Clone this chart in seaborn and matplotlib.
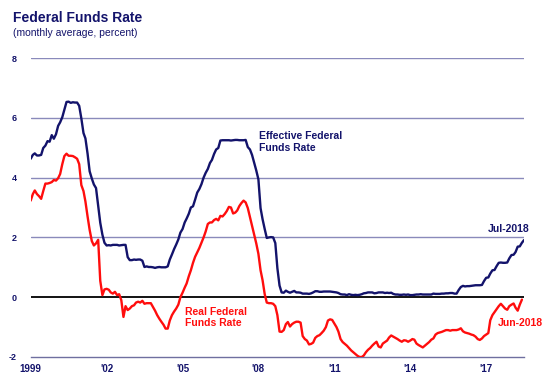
import numpy as np
import pandas as pd
import seaborn as sns
import matplotlib.pyplot as plt

# Effective Federal Funds Rate, monthly average, Jan-1999 .. Jul-2018
effective = [
    4.63, 4.76, 4.81, 4.74, 4.74, 4.76, 4.99, 5.07, 5.22, 5.20, 5.42, 5.30,  # 1999
    5.45, 5.73, 5.85, 6.02, 6.27, 6.53, 6.54, 6.50, 6.52, 6.51, 6.51, 6.40,  # 2000
    5.98, 5.49, 5.31, 4.80, 4.21, 3.97, 3.77, 3.65, 3.07, 2.49, 2.09, 1.82,  # 2001
    1.73, 1.74, 1.73, 1.75, 1.75, 1.75, 1.73, 1.74, 1.75, 1.75, 1.34, 1.24,  # 2002
    1.24, 1.26, 1.25, 1.26, 1.26, 1.22, 1.01, 1.03, 1.01, 1.01, 1.00, 0.98,  # 2003
    1.00, 1.01, 1.00, 1.00, 1.00, 1.03, 1.26, 1.43, 1.61, 1.76, 1.93, 2.16,  # 2004
    2.28, 2.50, 2.63, 2.79, 3.00, 3.04, 3.26, 3.50, 3.62, 3.78, 4.00, 4.16,  # 2005
    4.29, 4.49, 4.59, 4.79, 4.94, 4.99, 5.24, 5.25, 5.25, 5.25, 5.25, 5.24,  # 2006
    5.25, 5.26, 5.26, 5.25, 5.25, 5.25, 5.26, 5.02, 4.94, 4.76, 4.49, 4.24,  # 2007
    3.94, 2.98, 2.61, 2.28, 1.98, 2.00, 2.01, 2.00, 1.81, 0.97, 0.39, 0.16,  # 2008
    0.15, 0.22, 0.18, 0.15, 0.18, 0.21, 0.16, 0.16, 0.15, 0.12, 0.12, 0.12,  # 2009
    0.11, 0.13, 0.16, 0.20, 0.20, 0.18, 0.18, 0.19, 0.19, 0.19, 0.19, 0.18,  # 2010
    0.17, 0.16, 0.14, 0.10, 0.09, 0.09, 0.07, 0.10, 0.08, 0.07, 0.08, 0.07,  # 2011
    0.08, 0.10, 0.13, 0.14, 0.16, 0.16, 0.16, 0.13, 0.14, 0.16, 0.16, 0.16,  # 2012
    0.14, 0.15, 0.14, 0.15, 0.11, 0.09, 0.09, 0.08, 0.08, 0.09, 0.08, 0.09,  # 2013
    0.07, 0.07, 0.08, 0.09, 0.09, 0.10, 0.09, 0.09, 0.09, 0.09, 0.09, 0.12,  # 2014
    0.11, 0.11, 0.11, 0.12, 0.12, 0.13, 0.13, 0.14, 0.14, 0.12, 0.12, 0.24,  # 2015
    0.34, 0.38, 0.36, 0.37, 0.37, 0.38, 0.39, 0.40, 0.40, 0.40, 0.41, 0.54,  # 2016
    0.65, 0.66, 0.79, 0.90, 0.91, 1.04, 1.15, 1.16, 1.15, 1.15, 1.16, 1.30,  # 2017
    1.41, 1.42, 1.51, 1.69, 1.70, 1.82, 1.91,                                # 2018
]

# Real Federal Funds Rate, Jan-1999 .. Jun-2018
real = [
    3.23, 3.45, 3.57, 3.45, 3.38, 3.29, 3.55, 3.80, 3.80, 3.82, 3.85, 3.92,  # 1999
    3.90, 3.98, 4.12, 4.45, 4.72, 4.80, 4.73, 4.73, 4.72, 4.68, 4.63, 4.45,  # 2000
    3.75, 3.55, 3.20, 2.70, 2.25, 1.88, 1.73, 1.80, 1.92, 0.55, 0.07, 0.26,  # 2001
    0.28, 0.25, 0.16, 0.12, 0.18, 0.07, 0.10, -0.10, -0.66, -0.30, -0.43, -0.38,  # 2002
    -0.30, -0.27, -0.18, -0.15, -0.18, -0.12, -0.22, -0.20, -0.20, -0.20, -0.33, -0.45,  # 2003
    -0.60, -0.72, -0.82, -0.92, -1.05, -1.05, -0.78, -0.60, -0.48, -0.38, -0.25, 0.00,  # 2004
    0.15, 0.32, 0.46, 0.70, 0.90, 1.15, 1.35, 1.50, 1.65, 1.82, 2.00, 2.20,  # 2005
    2.45, 2.50, 2.50, 2.58, 2.62, 2.57, 2.72, 2.70, 2.78, 2.88, 3.02, 3.00,  # 2006
    2.80, 2.83, 2.90, 3.05, 3.15, 3.23, 3.17, 2.98, 2.68, 2.38, 2.10, 1.80,  # 2007
    1.45, 0.90, 0.57, 0.10, -0.18, -0.20, -0.20, -0.22, -0.30, -0.60, -1.15, -1.16,  # 2008
    -1.10, -0.90, -0.83, -0.98, -0.90, -0.85, -0.82, -0.82, -0.85, -1.30, -1.40, -1.45,  # 2009
    -1.58, -1.56, -1.52, -1.36, -1.30, -1.27, -1.20, -1.12, -1.00, -0.78, -0.74, -0.76,  # 2010
    -0.88, -1.00, -1.15, -1.40, -1.50, -1.56, -1.62, -1.70, -1.78, -1.84, -1.90, -1.96,  # 2011
    -2.00, -2.00, -1.95, -1.84, -1.76, -1.70, -1.62, -1.55, -1.49, -1.65, -1.68, -1.55,  # 2012
    -1.50, -1.45, -1.35, -1.28, -1.32, -1.36, -1.40, -1.45, -1.49, -1.44, -1.45, -1.49,  # 2013
    -1.45, -1.40, -1.42, -1.55, -1.60, -1.64, -1.68, -1.62, -1.56, -1.50, -1.42, -1.38,  # 2014
    -1.25, -1.20, -1.18, -1.16, -1.13, -1.10, -1.10, -1.12, -1.10, -1.10, -1.10, -1.08,  # 2015
    -1.04, -1.14, -1.18, -1.20, -1.22, -1.25, -1.27, -1.32, -1.40, -1.43, -1.38, -1.30,  # 2016
    -1.25, -1.20, -0.77, -0.60, -0.50, -0.40, -0.30, -0.22, -0.30, -0.38, -0.42, -0.30,  # 2017
    -0.25, -0.21, -0.35, -0.45, -0.25, -0.08,                                  # 2018
]

tick_years = [1999, 2002, 2005, 2008, 2011, 2014, 2017]
tick_labels = ["1999", "'02", "'05", "'08", "'11", "'14", "'17"]
y_ticks = [-2, 0, 2, 4, 6, 8]

NAVY = '#13136b'
RED = '#ff0d0d'
GRID = '#8a8abb'

dates_eff = pd.date_range('1999-01-01', periods=len(effective), freq='MS')
dates_real = pd.date_range('1999-01-01', periods=len(real), freq='MS')
df_eff = pd.DataFrame({'date': dates_eff, 'rate': effective})
df_real = pd.DataFrame({'date': dates_real, 'rate': real})

sns.set_theme(style='white')
plt.rcParams['font.family'] = ['Liberation Sans', 'DejaVu Sans']

fig = plt.figure(figsize=(5.51, 3.87), dpi=100)
ax = fig.add_axes([30.7 / 551, 30 / 387, (524 - 30.7) / 551, 299 / 387])

for v in [2, 4, 6, 8]:
    ax.axhline(v, color=GRID, lw=1.0, zorder=0)
ax.axhline(0, color='black', lw=1.3, zorder=1)

sns.lineplot(data=df_real, x='date', y='rate', color=RED, lw=1.7, ax=ax, zorder=3)
sns.lineplot(data=df_eff, x='date', y='rate', color=NAVY, lw=1.7, ax=ax, zorder=4)

ax.set_ylim(-2, 8)
ax.set_xlim(dates_eff[0], dates_eff[-1])
ax.set_xlabel('')
ax.set_ylabel('')

for s in ['top', 'right', 'left']:
    ax.spines[s].set_visible(False)
ax.spines['bottom'].set_color('#6f6f9f')
ax.spines['bottom'].set_linewidth(1.0)

ax.set_yticks(y_ticks)
ax.set_yticklabels([str(t) for t in y_ticks], fontsize=6.5, fontweight='bold', color=NAVY)
ax.tick_params(axis='y', length=0, pad=10)

ax.set_xticks([pd.Timestamp(f'{y}-01-01') for y in tick_years])
ax.set_xticklabels(tick_labels, fontsize=7, fontweight='bold', color=NAVY)
ax.tick_params(axis='x', direction='in', length=3, width=0.8, color='#6f6f9f', pad=5)
ax.grid(False)

fig.text(13 / 551, 1 - 18 / 387, 'Federal Funds Rate', fontsize=10, fontweight='bold',
         color=NAVY, ha='left', va='center')
fig.text(13 / 551, 1 - 33 / 387, '(monthly average, percent)', fontsize=7.5,
         color=NAVY, ha='left', va='center')

def px(xp, yp):
    return (xp / 551, 1 - yp / 387)

fig.text(*px(259, 142), 'Effective Federal\nFunds Rate', fontsize=7.5, fontweight='bold',
         color=NAVY, ha='left', va='center', linespacing=1.2)
fig.text(*px(185, 317.5), 'Real Federal\nFunds Rate', fontsize=7.5, fontweight='bold',
         color=RED, ha='left', va='center', linespacing=1.15)
fig.text(*px(530, 229), 'Jul-2018', fontsize=7.5, fontweight='bold',
         color=NAVY, ha='right', va='center')
fig.text(*px(543, 323), 'Jun-2018', fontsize=7.5, fontweight='bold',
         color=RED, ha='right', va='center')

fig.savefig('out.png', dpi=100)
